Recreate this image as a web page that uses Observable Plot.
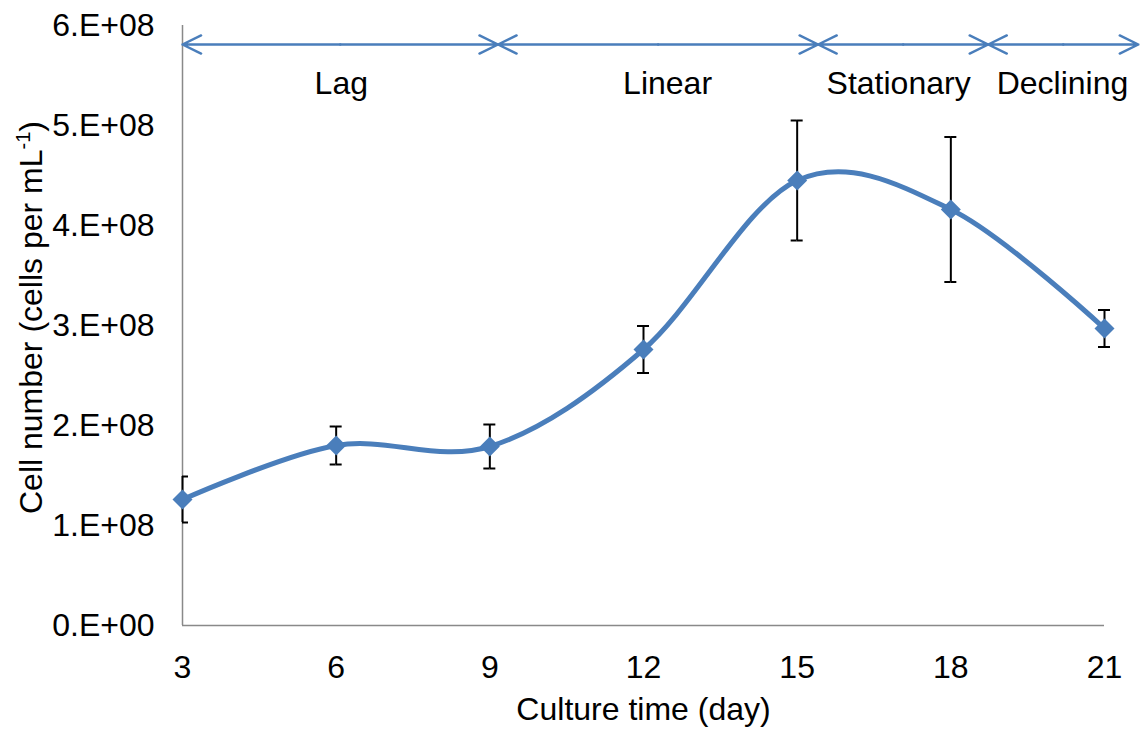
<!DOCTYPE html>
<html>
<head>
<meta charset="utf-8">
<script src="https://cdn.jsdelivr.net/npm/d3@7"></script>
<script src="https://cdn.jsdelivr.net/npm/@observablehq/plot@0.6"></script>
<style>
  html, body { margin: 0; padding: 0; background: #fff; }
  #chart svg { display: block; }
</style>
</head>
<body>
<div id="chart"></div>
<script>
// Culture growth: cell density over time, mean ± error
const days = [3, 6, 9, 12, 15, 18, 21];
const cellDensity = [1.26e8, 1.80e8, 1.79e8, 2.76e8, 4.45e8, 4.16e8, 2.97e8];
const cellError = [0.23e8, 0.19e8, 0.22e8, 0.235e8, 0.60e8, 0.725e8, 0.185e8];
const yTickValues = [0, 1e8, 2e8, 3e8, 4e8, 5e8, 6e8];

// Growth phases: names, boundaries (days) and label positions
const phaseNames = ["Lag", "Linear", "Stationary", "Declining"];
const phaseBounds = [3, 9.16, 15.41, 18.73, 21.66];
const phaseLabelDays = [6.1, 12.47, 16.98, 20.18];
const phaseArrowLevel = 5.81e8;
const phaseLabelLevel = 5.42e8;

const xTitle = "Culture time (day)";
const yTitle = "Cell number (cells per mL-1)";

const blue = "#4a7ebb";
const axisGray = "#898989";
const font = "'Liberation Sans', Arial, Helvetica, sans-serif";
const fs = 32;

const data = days.map((day, i) => ({
  day,
  cells: cellDensity[i],
  lo: cellDensity[i] - cellError[i],
  hi: cellDensity[i] + cellError[i]
}));

// Each phase gets a double-headed arrow: two arrows from its midpoint outward
const phaseArrows = [];
phaseNames.forEach((name, i) => {
  const a = phaseBounds[i], b = phaseBounds[i + 1], mid = (a + b) / 2;
  phaseArrows.push({from: mid, to: a}, {from: mid, to: b});
});
const phaseLabels = phaseNames.map((name, i) => ({name, day: phaseLabelDays[i]}));

// Excel-style scientific tick labels, e.g. 6.E+08
const sci = (d) => {
  if (d === 0) return "0.E+00";
  const e = Math.floor(Math.log10(Math.abs(d)));
  const m = Math.round(d / 10 ** e);
  return `${m}.E+${String(e).padStart(2, "0")}`;
};

const capHalf = 6;

const chart = Plot.plot({
  width: 1144,
  height: 729,
  marginLeft: 182,
  marginRight: 40,
  marginTop: 25,
  marginBottom: 104,
  style: {fontFamily: font, fontSize: `${fs}px`, background: "#fff", color: "#000"},
  x: {domain: [3, 21]},
  y: {domain: [0, 6e8]},
  marks: [
    // axis lines
    Plot.ruleX([days[0]], {stroke: axisGray, strokeWidth: 1.5}),
    Plot.ruleY([0], {stroke: axisGray, strokeWidth: 1.5}),
    Plot.axisX({ticks: days, tickSize: 0, tickPadding: 30, label: null, fontSize: fs, tickFormat: (d) => String(d)}),
    Plot.axisY({ticks: yTickValues, tickSize: 0, tickPadding: 28, label: null, fontSize: fs, tickFormat: sci}),
    // error bars
    Plot.ruleX(data, {x: "day", y1: "lo", y2: "hi", stroke: "#000", strokeWidth: 2}),
    Plot.ruleY(data, {y: "hi", x1: "day", x2: "day", insetRight: -capHalf, stroke: "#000", strokeWidth: 2}),
    Plot.ruleY(data, {y: "lo", x1: "day", x2: "day", insetRight: -capHalf, stroke: "#000", strokeWidth: 2}),
    Plot.ruleY(data.slice(1), {y: "hi", x1: "day", x2: "day", insetLeft: -capHalf, stroke: "#000", strokeWidth: 2}),
    Plot.ruleY(data.slice(1), {y: "lo", x1: "day", x2: "day", insetLeft: -capHalf, stroke: "#000", strokeWidth: 2}),
    // smoothed growth curve with diamond markers
    Plot.line(data, {x: "day", y: "cells", curve: "cardinal", stroke: blue, strokeWidth: 5}),
    Plot.dot(data, {x: "day", y: "cells", symbol: "diamond2", r: 9, fill: blue, stroke: "none"}),
    // phase arrows and labels
    Plot.arrow(phaseArrows, {
      x1: "from", x2: "to", y1: phaseArrowLevel, y2: phaseArrowLevel,
      stroke: blue, strokeWidth: 2.5, headLength: 12.4, headAngle: 52, bend: 0
    }),
    Plot.text(phaseLabels, {x: "day", y: phaseLabelLevel, text: "name", fontSize: fs, lineAnchor: "middle"}),
    // axis titles
    Plot.text([xTitle], {frameAnchor: "bottom", dy: 84, text: (d) => d, fontSize: fs, lineAnchor: "middle", textAnchor: "middle"}),
    Plot.text([yTitle], {frameAnchor: "left", dx: -151, dy: -8, rotate: -90, text: (d) => d, fontSize: fs, lineAnchor: "middle", textAnchor: "middle"})
  ]
});

document.getElementById("chart").appendChild(chart);

// superscript the "-1" in the y title
d3.select(chart).selectAll("text").each(function () {
  if (this.textContent === yTitle) {
    const t = d3.select(this);
    t.text(null);
    t.append("tspan").text("Cell number (cells per mL");
    t.append("tspan").attr("dy", "-12").attr("font-size", "20").text("-1");
    t.append("tspan").attr("dy", "12").text(")");
  }
});
</script>
</body>
</html>
